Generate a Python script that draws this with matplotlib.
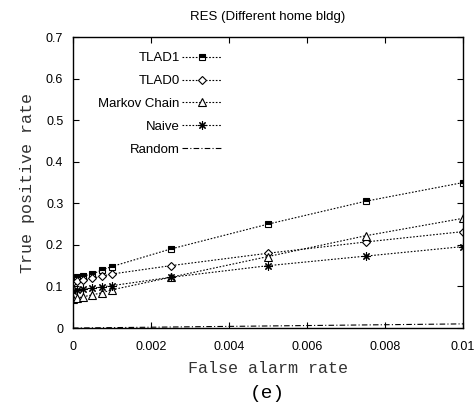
import numpy as np
import matplotlib
matplotlib.use("Agg")
import matplotlib.pyplot as plt

# false alarm rates where each method was evaluated
far = [0, 0.0001, 0.00025, 0.0005, 0.00075, 0.001, 0.0025, 0.005, 0.0075, 0.01]

tlad1 = [0.12, 0.122, 0.125, 0.13, 0.14, 0.148, 0.19, 0.25, 0.305, 0.35]
tlad0 = [0.11, 0.112, 0.115, 0.12, 0.125, 0.13, 0.15, 0.18, 0.207, 0.232]
markov = [0.07, 0.072, 0.075, 0.08, 0.085, 0.092, 0.122, 0.172, 0.222, 0.264]
naive = [0.09, 0.092, 0.093, 0.096, 0.099, 0.102, 0.122, 0.15, 0.173, 0.196]
random_far = [0, 0.01]
random_tpr = [0, 0.01]

sans = "Liberation Sans"
mono = "Liberation Mono"

fig = plt.figure(figsize=(4.77, 4.07), dpi=100)
ax = fig.add_axes([0.153, 0.194, 0.818, 0.715])

ls = (0, (1.5, 1.5))
base = dict(color="black", lw=0.8, linestyle=ls, mew=0.8)
ax.plot(far, tlad1, marker="s", markersize=5, fillstyle="top",
        markerfacecolor="black", markerfacecoloralt="white", label="TLAD1", **base)
ax.plot(far, tlad0, marker="D", markersize=4, markerfacecolor="white",
        label="TLAD0", **base)
ax.plot(far, markov, marker="^", markersize=5.5, markerfacecolor="white",
        label="Markov Chain", **base)
ax.plot(far, naive, marker=(8, 2, 0), markersize=6, label="Naive", **base)
ax.plot(random_far, random_tpr, color="black", lw=0.8,
        linestyle=(0, (5, 2, 1, 2)), label="Random")

ax.set_xlim(0, 0.01)
ax.set_ylim(0, 0.7)
ax.set_xticks(np.arange(0, 0.0101, 0.002))
ax.set_xticklabels(["0", "0.002", "0.004", "0.006", "0.008", "0.01"])
ax.set_yticks(np.arange(0, 0.71, 0.1))
ax.set_yticklabels(["0", "0.1", "0.2", "0.3", "0.4", "0.5", "0.6", "0.7"])
ax.tick_params(direction="in", top=True, right=True, length=4, width=0.8,
               labelsize=9, pad=7)
ax.tick_params(axis="x", pad=9)
for lab in ax.get_xticklabels() + ax.get_yticklabels():
    lab.set_family(sans)
for sp in ax.spines.values():
    sp.set_linewidth(1.0)

ax.set_xlabel("False alarm rate", fontfamily=mono, fontsize=12,
              color="#333333", labelpad=6)
ax.set_ylabel("True positive rate", fontfamily=mono, fontsize=12,
              color="#333333", labelpad=8)
ax.set_title("RES (Different home bldg)", fontfamily=sans, fontsize=9.5, pad=12)
fig.text(0.56, 0.034, "(e)", ha="center", va="center", fontfamily=mono,
         fontsize=14)

ax.legend(loc="upper right", markerfirst=False, frameon=False,
          prop={"family": sans, "size": 9.5}, handlelength=3.0,
          labelspacing=0.8, borderpad=0, borderaxespad=0,
          bbox_to_anchor=(0.382, 0.948), handletextpad=0.2)

fig.savefig("out.png", dpi=100)
